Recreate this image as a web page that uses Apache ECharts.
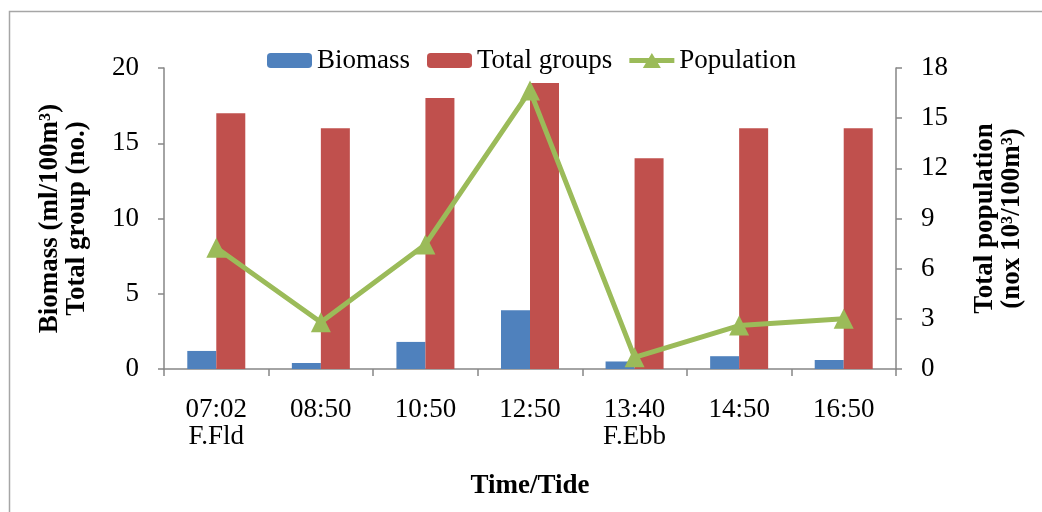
<!DOCTYPE html>
<html>
<head>
<meta charset="utf-8">
<script src="https://cdn.jsdelivr.net/npm/echarts@6/dist/echarts.min.js"></script>
<style>
html,body{margin:0;padding:0;background:#fff;}
#chart{width:1042px;height:512px;}
</style>
</head>
<body>
<div id="chart"></div>
<script>
var categories = ['07:02\nF.Fld', '08:50', '10:50', '12:50', '13:40\nF.Ebb', '14:50', '16:50'];
var biomass = [1.2, 0.4, 1.8, 3.9, 0.5, 0.85, 0.6];
var totalGroups = [17, 16, 18, 19, 14, 16, 16];
var population = [7.25, 2.8, 7.45, 16.65, 0.7, 2.6, 3.0];
var leftTicks = {min: 0, max: 20, interval: 5};
var rightTicks = {min: 0, max: 18, interval: 3};

var FONT = '"Liberation Serif", "Times New Roman", serif';
var axisColor = '#868686';
var chart = echarts.init(document.getElementById('chart'), null, {renderer: 'canvas'});
chart.setOption({
  backgroundColor: '#ffffff',
  animation: false,
  textStyle: {fontFamily: FONT},
  graphic: [{
    type: 'rect', silent: true,
    shape: {x: 9.5, y: 11.5, width: 1100, height: 600},
    style: {fill: 'none', stroke: '#a6a6a6', lineWidth: 1.5}
  }],
  legend: {
    left: 262, top: 42,
    itemWidth: 45, itemHeight: 15, itemGap: 17,
    textStyle: {fontFamily: FONT, fontSize: 27, color: '#000'},
    data: ['Biomass', 'Total groups', {
      name: 'Population',
      icon: 'path://M0,5 L45,5 L45,10 L0,10 Z M22.5,0 L31.5,15 L13.5,15 Z',
      itemStyle: {color: '#9bbb59'}
    }]
  },
  grid: {left: 164, right: 146, top: 68, bottom: 143, containLabel: false},
  xAxis: {
    type: 'category',
    data: categories,
    name: 'Time/Tide',
    nameLocation: 'middle',
    nameGap: 104,
    nameTextStyle: {fontFamily: FONT, fontSize: 27, fontWeight: 'bold', color: '#000'},
    axisLine: {lineStyle: {color: axisColor, width: 1.5}},
    axisTick: {show: true, length: 7, lineStyle: {color: axisColor, width: 1.5}},
    axisLabel: {fontFamily: FONT, fontSize: 27, color: '#000', margin: 27, lineHeight: 27, interval: 0}
  },
  yAxis: [{
    type: 'value',
    min: leftTicks.min, max: leftTicks.max, interval: leftTicks.interval,
    position: 'left',
    name: 'Biomass (ml/100m³)\nTotal group (no.)',
    nameLocation: 'middle',
    nameRotate: 90,
    nameGap: 73,
    nameTextStyle: {fontFamily: FONT, fontSize: 27, fontWeight: 'bold', color: '#000', lineHeight: 27},
    axisLine: {show: true, lineStyle: {color: axisColor, width: 1.5}},
    axisTick: {show: true, length: 6, lineStyle: {color: axisColor, width: 1.5}},
    axisLabel: {fontFamily: FONT, fontSize: 27, color: '#000', margin: 25},
    splitLine: {show: false}
  }, {
    type: 'value',
    min: rightTicks.min, max: rightTicks.max, interval: rightTicks.interval,
    position: 'right',
    name: 'Total population\n(nox 10³/100m³)',
    nameLocation: 'middle',
    nameRotate: 90,
    nameGap: 76,
    nameTextStyle: {fontFamily: FONT, fontSize: 27, fontWeight: 'bold', color: '#000', lineHeight: 27},
    axisLine: {show: true, lineStyle: {color: axisColor, width: 1.5}},
    axisTick: {show: true, length: 6, lineStyle: {color: axisColor, width: 1.5}},
    axisLabel: {fontFamily: FONT, fontSize: 27, color: '#000', margin: 25},
    splitLine: {show: false}
  }],
  series: [{
    name: 'Biomass', type: 'bar', data: biomass,
    barWidth: 29, barGap: '0%',
    itemStyle: {color: '#4f81bd'}
  }, {
    name: 'Total groups', type: 'bar', data: totalGroups,
    barWidth: 29, barGap: '0%',
    itemStyle: {color: '#c0504d'}
  }, {
    name: 'Population', type: 'line', yAxisIndex: 1, data: population,
    symbol: 'triangle', symbolSize: 20, showAllSymbol: true,
    lineStyle: {color: '#9bbb59', width: 5},
    itemStyle: {color: '#9bbb59'},
    z: 5
  }]
});
</script>
</body>
</html>
